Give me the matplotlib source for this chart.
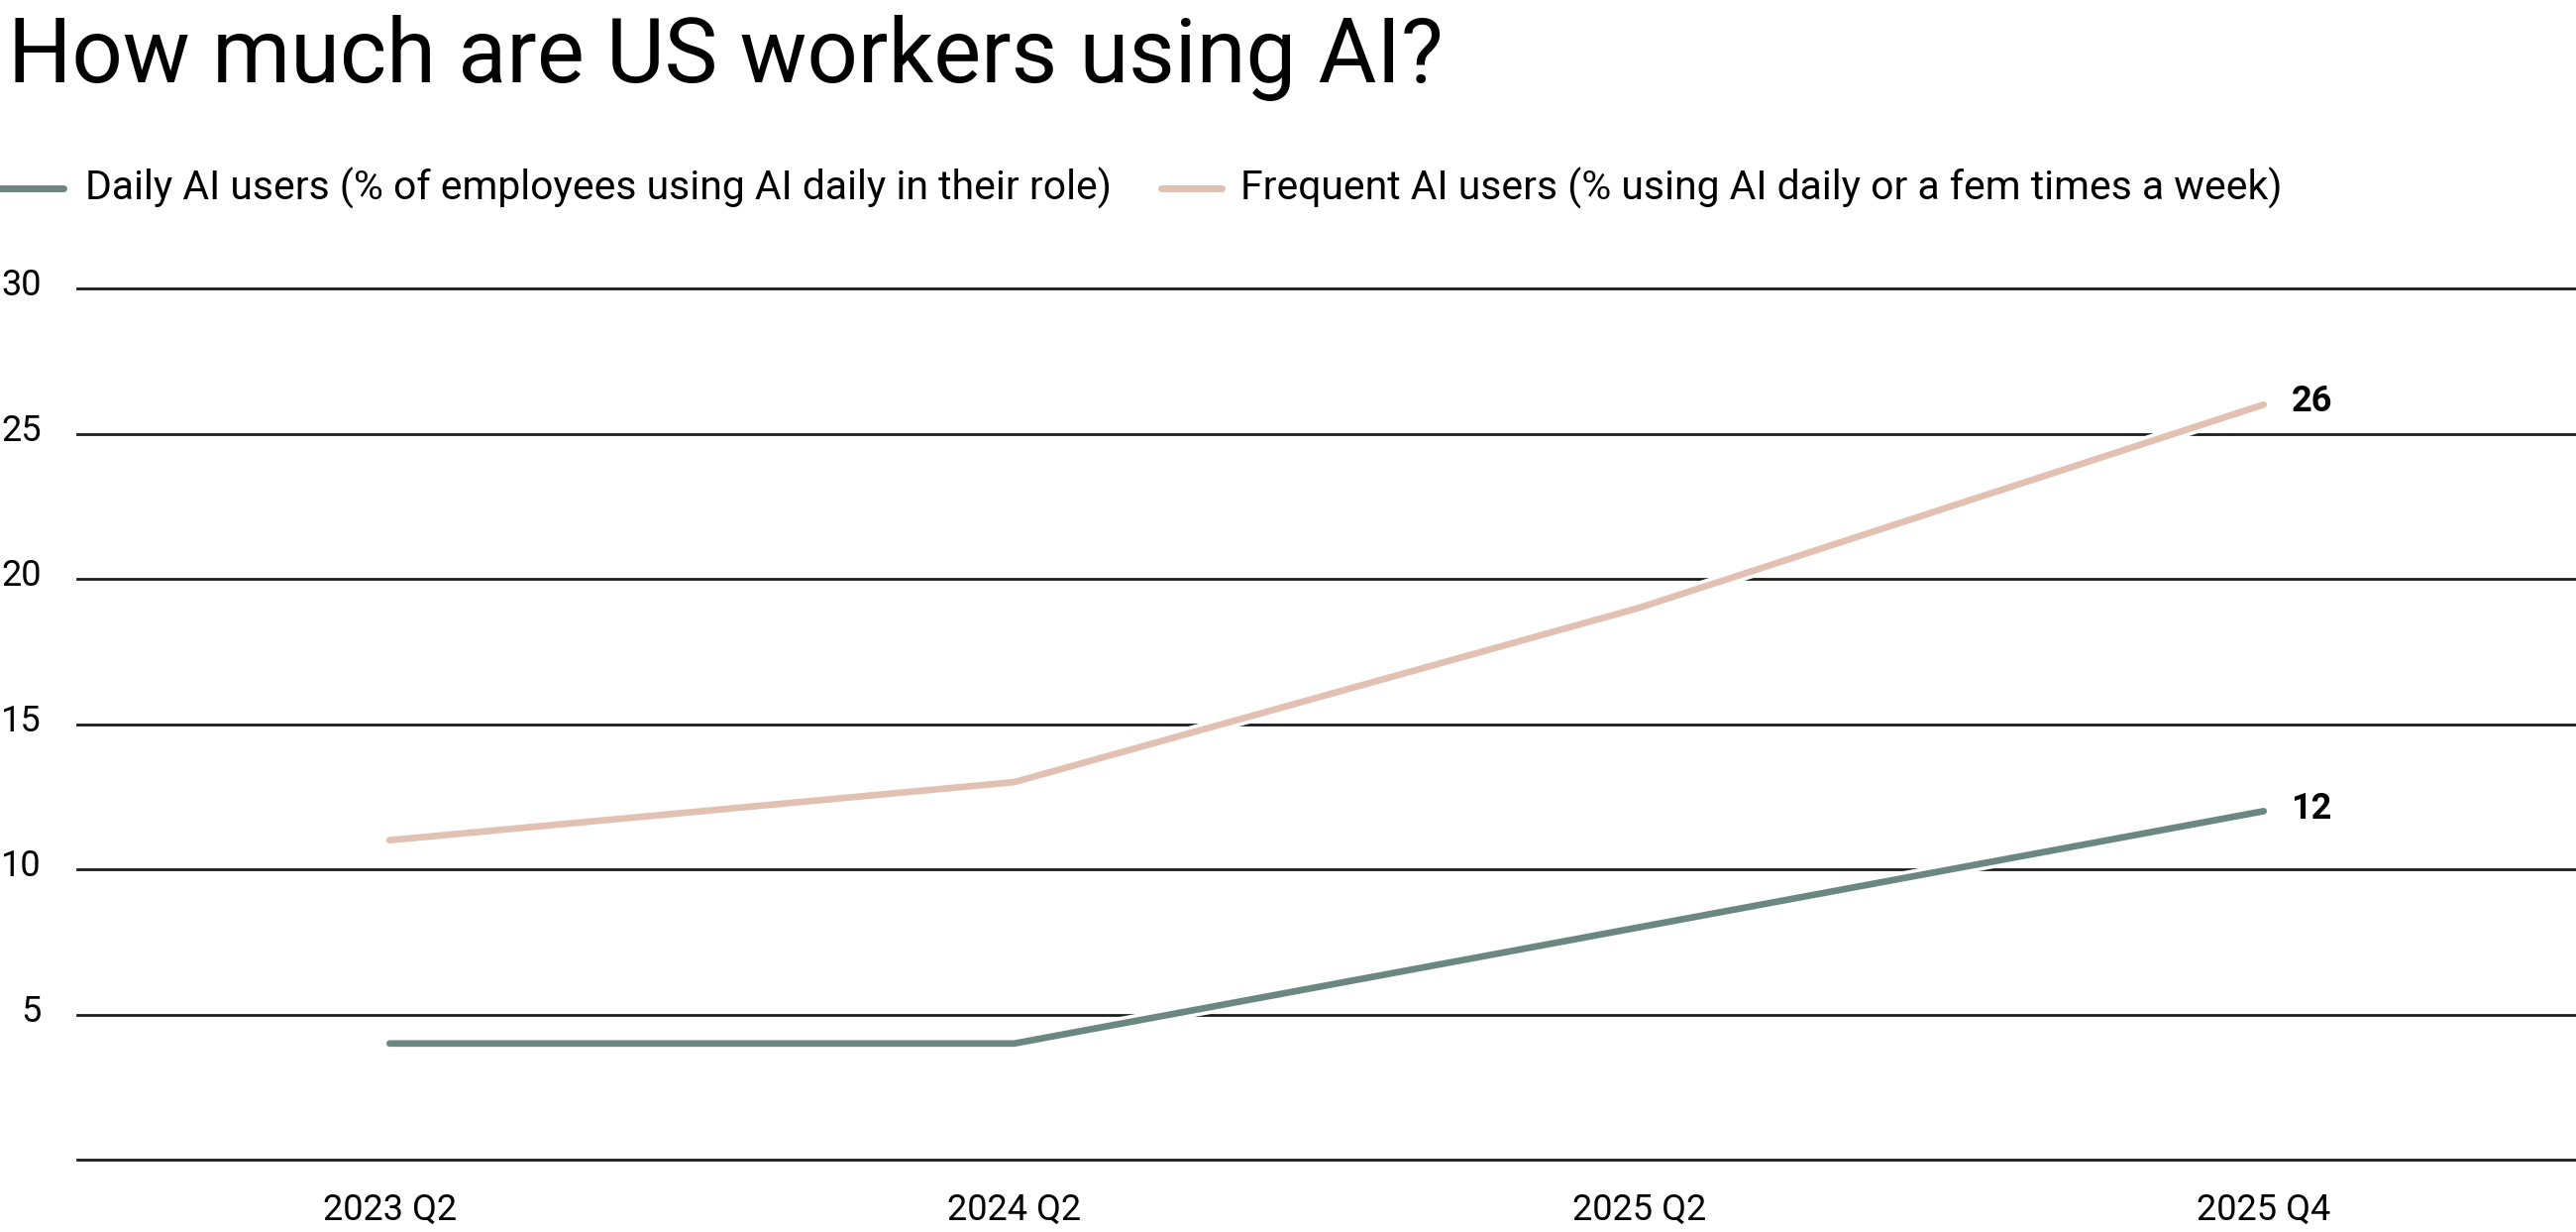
import matplotlib
matplotlib.use("Agg")
import matplotlib.pyplot as plt
import matplotlib.patheffects as pe
import matplotlib.transforms as mtrans
from matplotlib.lines import Line2D

# data
quarters = ["2023 Q2", "2024 Q2", "2025 Q2", "2025 Q4"]
daily_users = [4, 4, 8, 12]
frequent_users = [11, 13, 19, 26]
y_ticks = [0, 5, 10, 15, 20, 25, 30]
y_tick_labels = ["", "5", "10", "15", "20", "25", "30"]

daily_label = "Daily AI users (% of employees using AI daily in their role)"
frequent_label = "Frequent AI users (% using AI daily or a fem times a week)"
title = "How much are US workers using AI?"

col_daily = "#6b8782"
col_frequent = "#e2c0b2"
col_grid = "#1c1c1c"

plt.rcParams["font.family"] = ["Roboto", "DejaVu Sans"]

W, H = 2600, 1243
fig = plt.figure(figsize=(W / 100, H / 100), dpi=100)

# axes placed in pixel terms of the reference
left, right, top, bottom = 78, 2600, 291, 1170
ax = fig.add_axes([left / W, (H - bottom) / H, (right - left) / W, (bottom - top) / H])

x = list(range(len(quarters)))
halo = [pe.withStroke(linewidth=10, foreground="white")]
ax.plot(x, frequent_users, color=col_frequent, lw=4.8, solid_capstyle="round",
        zorder=3, path_effects=halo)
ax.plot(x, daily_users, color=col_daily, lw=4.8, solid_capstyle="round",
        zorder=4, path_effects=halo)

# end value labels
for vals in (frequent_users, daily_users):
    ax.annotate(str(vals[-1]), xy=(x[-1], vals[-1]), xytext=(20, 2),
                textcoords="offset points", va="center", ha="left",
                fontsize=26, fontweight="bold", color="black")

ax.set_xlim(-0.5, 3.5)
ax.set_ylim(0, 30)
ax.set_xticks(x)
ax.set_xticklabels(quarters)
ax.set_yticks(y_ticks)
ax.set_yticklabels(y_tick_labels)
ax.tick_params(axis="both", length=0, labelsize=26, colors="black")
ax.tick_params(axis="x", pad=24)
ax.tick_params(axis="y", pad=26)
nudge = mtrans.ScaledTranslation(0, 2 / 72, fig.dpi_scale_trans)
for lbl in ax.get_yticklabels():
    lbl.set_verticalalignment("center")
    lbl.set_transform(lbl.get_transform() + nudge)
ax.grid(axis="y", color=col_grid, lw=2)
ax.grid(axis="x", visible=False)
for gl in ax.get_ygridlines():
    gl.set_clip_on(False)
for s in ax.spines.values():
    s.set_visible(False)

# title
fig.text(8 / W, (H - 83) / H, title, fontsize=65, ha="left", va="baseline", color="black")

# legend drawn by hand
leg_y = (H - 190) / H
fig.add_artist(Line2D([0 / W, 64 / W], [leg_y, leg_y], transform=fig.transFigure,
                      color=col_daily, lw=5, solid_capstyle="round"))
fig.text(86 / W, (H - 202) / H, daily_label, fontsize=29.4, ha="left", va="baseline")
fig.add_artist(Line2D([1172 / W, 1233 / W], [leg_y, leg_y], transform=fig.transFigure,
                      color=col_frequent, lw=5, solid_capstyle="round"))
fig.text(1252 / W, (H - 202) / H, frequent_label, fontsize=29.4, ha="left", va="baseline")

fig.savefig("out.png", dpi=100, facecolor="white")
